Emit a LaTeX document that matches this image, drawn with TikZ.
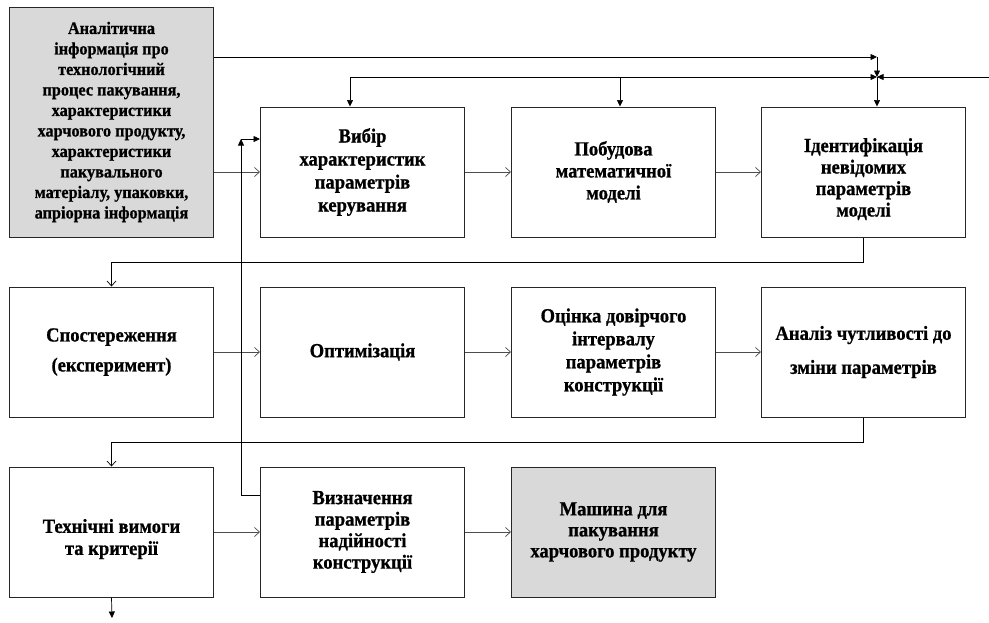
\documentclass[tikz,border=0pt]{standalone}
\usepackage{fontspec}
\setmainfont{Liberation Serif}[FakeStretch=0.93, BoldFeatures={FakeBold=0.8}]
\usetikzlibrary{arrows.meta}
\definecolor{boxgrey}{HTML}{D9D9D9}
\tikzset{
  x=1pt, y=-1pt,
  box/.style={draw=black!85, line width=1pt, minimum width=204pt, minimum height=130pt,
    align=center, inner sep=2pt, font=\bfseries\fontsize{20}{23}\selectfont},
  greybox/.style={box, fill=boxgrey},
  openarr/.style={draw=black!70, line width=0.9pt, -{Straight Barb[length=5pt,width=9pt,line width=0.7pt]}},
  filarr/.style={draw=black, line width=0.7pt, -{Triangle[length=6.5pt,width=6pt]}},
  plain/.style={draw=black, line width=0.7pt}
}
\newcommand{\pushdown}{\rule{0pt}{28pt}}
\begin{document}
\begin{tikzpicture}
\useasboundingbox (0,0) rectangle (989,622);
% nodes
\node[greybox, minimum height=230pt, font=\bfseries\fontsize{17.5}{20.5}\selectfont] (A) at (111.5,122)
 {Аналітична\\інформація про\\технологічний\\процес пакування,\\характеристики\\харчового продукту,\\характеристики\\пакувального\\матеріалу, упаковки,\\апріорна інформація};
\node[box] (B1) at (362.5,172) {Вибір\\характеристик\\параметрів\\керування};
\node[box, font=\bfseries\fontsize{20}{22}\selectfont] (B2) at (613.5,172) {Побудова\\математичної\\моделі};
\node[box, font=\bfseries\fontsize{20}{21.5}\selectfont] (B3) at (863.5,172) {\pushdown Ідентифікація\\невідомих\\параметрів\\моделі};
\node[box] (C1) at (111.5,352) {Спостереження\\[7pt](експеримент)};
\node[box] (C2) at (362.5,352) {Оптимізація};
\node[box] (C3) at (613.5,352) {Оцінка довірчого\\інтервалу\\параметрів\\конструкції};
\node[box] (C4) at (863.5,352) {Аналіз чутливості до\\[11pt]зміни параметрів};
\node[box, font=\bfseries\fontsize{20}{22}\selectfont] (D1) at (111.5,532) {\pushdown Технічні вимоги\\та критерії};
\node[box, font=\bfseries\fontsize{20}{21.5}\selectfont] (D2) at (362.5,532) {Визначення\\параметрів\\надійності\\конструкції};
\node[greybox, font=\bfseries\fontsize{20}{21}\selectfont] (D3) at (613.5,532) {Машина для\\пакування\\харчового продукту};
% coordinates
\coordinate (T) at (877,57);
\coordinate (J) at (877,77);
\coordinate (R) at (989,77);
\coordinate (L) at (350,77);
\coordinate (M) at (620,77);
\coordinate (K) at (241,495);
\coordinate (K2) at (241,139);
\coordinate (Z) at (112,618);
% top feedback lines
\draw[filarr] (A.east |- T) -- (T);
\draw[filarr] (T) -- (J);
\draw[filarr] (R) -- (J);
\draw[filarr] (L) -- (J);
\draw[filarr] (J) -- (J |- B3.north);
\draw[filarr] (L) -- (L |- B1.north);
\draw[filarr] (M) -- (M |- B2.north);
% main flow
\draw[openarr] (A.east |- B1.west) -- (B1.west);
\draw[openarr] (B1) -- (B2);
\draw[openarr] (B2) -- (B3);
\draw[plain, -{Straight Barb[length=5pt,width=9pt,line width=0.7pt]}] (B3.south) -- ++(0,25) -| (C1.north);
\draw[openarr] (C1) -- (C2);
\draw[openarr] (C2) -- (C3);
\draw[openarr] (C3) -- (C4);
\draw[plain, -{Straight Barb[length=5pt,width=9pt,line width=0.7pt]}] (C4.south) -- ++(0,25) -| (D1.north);
\draw[openarr] (D1) -- (D2);
\draw[openarr] (D2) -- (D3);
\draw[filarr] (D1.south) -- (Z);
% return from D2 to B1
\draw[plain] (D2.west |- K) -- (K);
\draw[filarr] (K) -- (K2);
\draw[filarr] (K2) -- (K2 -| B1.west);
\end{tikzpicture}
\end{document}
